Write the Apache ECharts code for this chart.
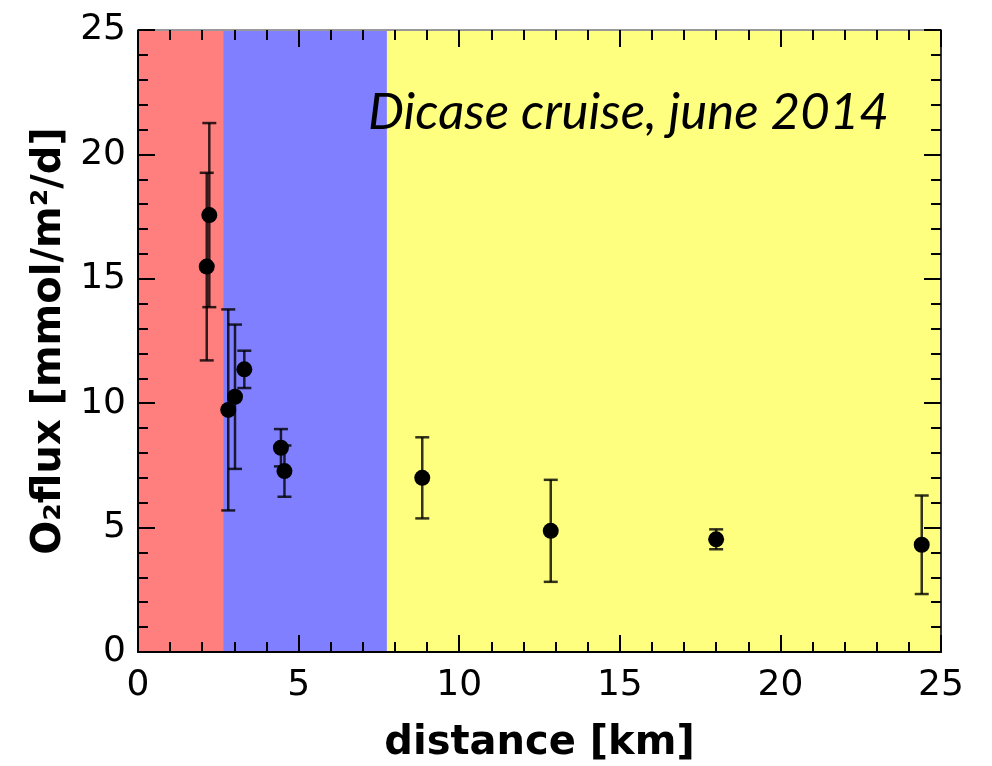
<!DOCTYPE html>
<html><head><meta charset="utf-8">
<script src="https://cdn.jsdelivr.net/npm/echarts@6/dist/echarts.min.js"></script>
<style>html,body{margin:0;padding:0;background:#fff}#c{width:992px;height:766px}</style>
</head><body><div id="c"></div>
<script>
const distance = [2.14, 2.22, 2.81, 3.02, 3.31, 4.45, 4.56, 8.85, 12.85, 18.0, 24.4];
const flux     = [15.49, 17.56, 9.73, 10.26, 11.36, 8.21, 7.27, 7.0, 4.87, 4.53, 4.31];
const fluxErr  = [3.77, 3.7, 4.04, 2.9, 0.75, 0.75, 1.03, 1.63, 2.05, 0.4, 1.98];
const zoneStart = [0, 2.65, 7.75];
const zoneEnd   = [2.65, 7.75, 25];
const zoneColor = ['#ff7f7f', '#7f7fff', '#ffff7f'];
const xTicks = [0, 5, 10, 15, 20, 25];
const yTicks = [0, 5, 10, 15, 20, 25];
const annotation = 'Dicase cruise, june 2014';

const chart = echarts.init(document.getElementById('c'));
const tickFont = {fontFamily: 'DejaVu Sans', fontSize: 36, color: '#000'};
function axisBase(lineColor) {
  return {
    min: 0, max: 25, interval: 5, z: 10,
    axisLine: {show: true, onZero: false, lineStyle: {color: lineColor, width: 2}},
    axisTick: {show: true, inside: true, length: 17, lineStyle: {color: '#000', width: 2}},
    minorTick: {show: true, splitNumber: 5, length: 10, lineStyle: {color: '#000', width: 2}},
    splitLine: {show: false}
  };
}
const nameStyle = {fontFamily: 'DejaVu Sans', fontWeight: 'bold', fontSize: 40, color: '#000'};
const pts = distance.map((d, i) => [d, flux[i], fluxErr[i]]);
chart.setOption({
  animation: false,
  grid: {left: 138, right: 51, top: 30, bottom: 114, outerBoundsMode: 'none', containLabel: false},
  xAxis: [
    Object.assign(axisBase('#000'), {type: 'value', position: 'bottom',
      name: 'distance [km]', nameLocation: 'middle', nameGap: 72, nameTextStyle: nameStyle,
      axisLabel: Object.assign({margin: 16, formatter: v => xTicks.includes(v) ? String(v) : ''}, tickFont)}),
    Object.assign(axisBase('#999'), {type: 'value', position: 'top', axisLabel: {show: false}})
  ],
  yAxis: [
    Object.assign(axisBase('#000'), {type: 'value', position: 'left',
      name: 'O₂flux [mmol/m²/d]', nameLocation: 'middle', nameGap: 67, nameTextStyle: nameStyle,
      axisLabel: Object.assign({margin: 12, formatter: v => yTicks.includes(v) ? String(v) : ''}, tickFont)}),
    Object.assign(axisBase('#333'), {type: 'value', position: 'right', axisLabel: {show: false}})
  ],
  series: [
    {
      type: 'scatter', data: [], z: 0, silent: true,
      markArea: {silent: true, itemStyle: {opacity: 1},
        data: zoneStart.map((s, i) => [{xAxis: s, yAxis: 0, itemStyle: {color: zoneColor[i], opacity: 1}}, {xAxis: zoneEnd[i], yAxis: 25}])}
    },
    {
      type: 'custom', z: 2, silent: true,
      data: pts,
      renderItem: function (params, api) {
        const x = api.value(0), y = api.value(1), e = api.value(2);
        const top = api.coord([x, y + e]);
        const bot = api.coord([x, y - e]);
        const hw = 7;
        const st = {stroke: 'rgba(0,0,0,0.8)', lineWidth: 2.5};
        return {type: 'group', children: [
          {type: 'line', shape: {x1: top[0], y1: top[1], x2: bot[0], y2: bot[1]}, style: st},
          {type: 'line', shape: {x1: top[0] - hw, y1: top[1], x2: top[0] + hw, y2: top[1]}, style: st},
          {type: 'line', shape: {x1: bot[0] - hw, y1: bot[1], x2: bot[0] + hw, y2: bot[1]}, style: st}
        ]};
      },
      encode: {x: 0, y: 1}
    },
    {
      type: 'scatter', z: 3, symbol: 'circle', symbolSize: 16,
      itemStyle: {color: '#000', opacity: 1},
      data: pts.map(p => [p[0], p[1]])
    }
  ],
  graphic: [{
    type: 'text', left: 368, top: 87, z: 10,
    style: {text: annotation, font: 'italic 51px Lato', fill: '#000'}
  }]
});
</script></body></html>
